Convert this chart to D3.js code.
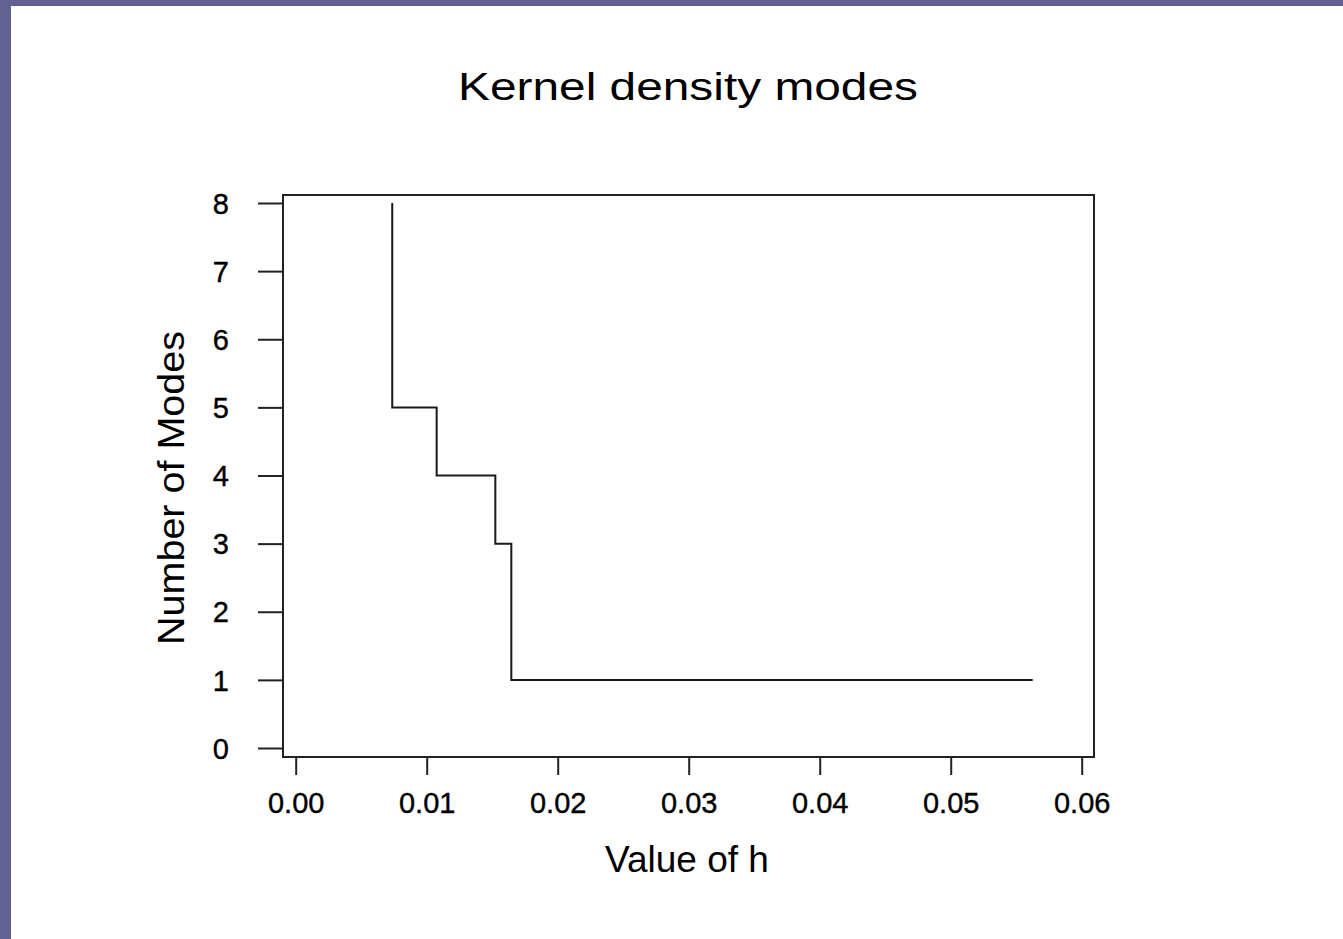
<!DOCTYPE html>
<html>
<head>
<meta charset="utf-8">
<script src="https://cdn.jsdelivr.net/npm/d3@7"></script>
<style>
  body { margin: 0; background: #fff; }
  svg { display: block; }
  text { font-family: "Liberation Sans", Arial, sans-serif; fill: #000; }
</style>
</head>
<body>
<div id="chart"></div>
<script>
// bandwidth h where the mode count changes, and the number of modes
var hValues = [0.00737, 0.00737, 0.01076, 0.01524, 0.01646, 0.05626];
var modeCounts = [8, 5, 4, 3, 1, 1];
var xTicks = [0, 0.01, 0.02, 0.03, 0.04, 0.05, 0.06];
var yTicks = [0, 1, 2, 3, 4, 5, 6, 7, 8];

var width = 1343;
var height = 939;
var box = { left: 283, right: 1094, top: 195, bottom: 757 };

var xScale = d3.scaleLinear()
    .domain([0, 0.06])
    .range([295.7, 1081.7]);
var yScale = d3.scaleLinear()
    .domain([0, 8])
    .range([748, 203]);

var svg = d3.select("#chart").append("svg")
    .attr("width", width)
    .attr("height", height);

// slide frame
svg.append("rect").attr("x", 0).attr("y", 0).attr("width", width).attr("height", 6).attr("fill", "#636192");
svg.append("rect").attr("x", 0).attr("y", 0).attr("width", 11).attr("height", height).attr("fill", "#636192");

// plot box
svg.append("rect")
    .attr("x", box.left)
    .attr("y", box.top)
    .attr("width", box.right - box.left)
    .attr("height", box.bottom - box.top)
    .attr("fill", "none")
    .attr("stroke", "#222")
    .attr("stroke-width", 2);

var xAxis = d3.axisBottom(xScale)
    .tickValues(xTicks)
    .tickSize(18)
    .tickPadding(17)
    .tickFormat(d3.format(".2f"));
var yAxis = d3.axisLeft(yScale)
    .tickValues(yTicks)
    .tickSize(25)
    .tickPadding(29)
    .tickFormat(d3.format("d"));

var gx = svg.append("g")
    .attr("transform", "translate(0," + box.bottom + ")")
    .call(xAxis);
var gy = svg.append("g")
    .attr("transform", "translate(" + box.left + ",0)")
    .call(yAxis);

[gx, gy].forEach(function (g) {
    g.select(".domain").remove();
    g.selectAll(".tick line").attr("stroke", "#222").attr("stroke-width", 2);
    g.selectAll(".tick text")
        .style("font-family", "'Liberation Sans', Arial, sans-serif")
        .style("font-size", "29px")
        .attr("fill", "#000")
        .attr("stroke", "#000")
        .attr("stroke-width", 0.4);
});
gy.selectAll(".tick text").attr("dy", "0.35em");

// step line
var pts = hValues.map(function (h, i) { return [h, modeCounts[i]]; });
var line = d3.line()
    .x(function (d) { return xScale(d[0]); })
    .y(function (d) { return yScale(d[1]); })
    .curve(d3.curveStepAfter);

svg.append("path")
    .attr("d", line(pts))
    .attr("fill", "none")
    .attr("stroke", "#1a1a1a")
    .attr("stroke-width", 2);

// titles
svg.append("text")
    .attr("x", 688)
    .attr("y", 100)
    .attr("text-anchor", "middle")
    .attr("textLength", 460)
    .attr("lengthAdjust", "spacingAndGlyphs")
    .style("font-size", "39px")
    .text("Kernel density modes");

svg.append("text")
    .attr("x", 687)
    .attr("y", 872)
    .attr("text-anchor", "middle")
    .style("font-size", "37px")
    .text("Value of h");

svg.append("text")
    .attr("transform", "translate(184,488) rotate(-90)")
    .attr("text-anchor", "middle")
    .attr("textLength", 314)
    .attr("lengthAdjust", "spacingAndGlyphs")
    .style("font-size", "37px")
    .text("Number of Modes");
</script>
</body>
</html>
